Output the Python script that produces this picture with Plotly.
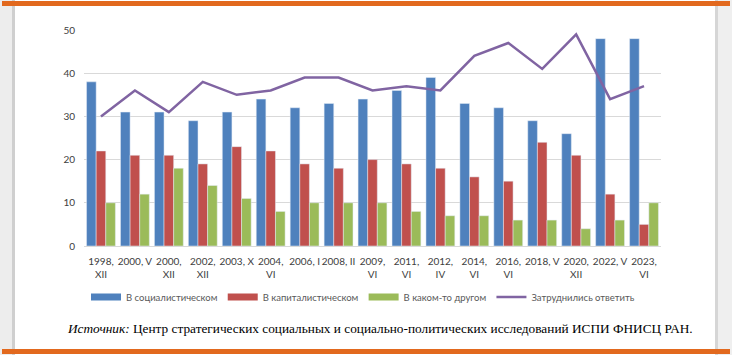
import plotly.graph_objects as go

categories = ["1998,<br>XII", "2000, V", "2000,<br>XII", "2002,<br>XII", "2003, X", "2004,<br>VI",
              "2006, I", "2008, II", "2009,<br>VI", "2011,<br>VI", "2012,<br>IV", "2014,<br>VI",
              "2016,<br>VI", "2018, V", "2020,<br>XII", "2022, V", "2023,<br>VI"]
socialist = [38, 31, 31, 29, 31, 34, 32, 33, 34, 36, 39, 33, 32, 29, 26, 48, 48]
capitalist = [22, 21, 21, 19, 23, 22, 19, 18, 20, 19, 18, 16, 15, 24, 21, 12, 5]
other = [10, 12, 18, 14, 11, 8, 10, 10, 10, 8, 7, 7, 6, 6, 4, 6, 10]
undecided = [30, 36, 31, 38, 35, 36, 39, 39, 36, 37, 36, 44, 47, 41, 49, 34, 37]
series_names = ["В социалистическом", "В капиталистическом", "В каком-то другом", "Затруднились ответить"]
yticks = [0, 10, 20, 30, 40, 50]

colors = ["#4F81BD", "#C0504D", "#9BBB59", "#8064A2"]

W, H = 732, 355
L, R, T, B = 84, 661, 30, 246


def px_x(x):
    return (x - L) / (R - L)


def px_y(y):
    return (B - y) / (B - T)


fig = go.Figure()
for vals, name, col in zip([socialist, capitalist, other], series_names[:3], colors[:3]):
    fig.add_bar(x=categories, y=vals, name=name, marker_color=col, showlegend=False, legendgroup=name)
    # legend-only entry drawn as a wide swatch like the original
    fig.add_scatter(x=[categories[0]], y=[None], name=name, mode="lines", legendgroup=name,
                    line=dict(color=col, width=7), hoverinfo="skip")
fig.add_scatter(x=categories, y=undecided, name=series_names[3], mode="lines",
                line=dict(color=colors[3], width=2.5))

shapes = [
    dict(type="rect", xref="paper", yref="paper", x0=px_x(0), x1=px_x(14), y0=px_y(H), y1=px_y(0),
         fillcolor="#EDEDED", line_width=0, layer="below"),
    dict(type="rect", xref="paper", yref="paper", x0=px_x(12), x1=px_x(15), y0=px_y(H), y1=px_y(0),
         fillcolor="#CFCFCF", line_width=0, layer="below"),
    dict(type="rect", xref="paper", yref="paper", x0=px_x(716), x1=px_x(W), y0=px_y(H), y1=px_y(0),
         fillcolor="#EFEFEF", line_width=0, layer="below"),
    dict(type="rect", xref="paper", yref="paper", x0=px_x(715), x1=px_x(718), y0=px_y(H), y1=px_y(0),
         fillcolor="#D6D6D6", line_width=0, layer="below"),
    dict(type="rect", xref="paper", yref="paper", x0=px_x(2), x1=px_x(730), y0=px_y(6), y1=px_y(1),
         fillcolor="#E2691E", line_width=0, layer="above"),
    dict(type="rect", xref="paper", yref="paper", x0=px_x(2), x1=px_x(730), y0=px_y(354), y1=px_y(349),
         fillcolor="#E2691E", line_width=0, layer="above"),
]

fig.update_layout(
    width=W, height=H,
    margin=dict(l=L, r=W - R, t=T, b=H - B, autoexpand=False),
    paper_bgcolor="white", plot_bgcolor="white",
    barmode="group", bargap=0.15, bargroupgap=0,
    font=dict(family="Lato, Open Sans, sans-serif", size=10, color="#404040"),
    showlegend=True,
    legend=dict(orientation="h", x=px_x(363), xanchor="center", y=px_y(297), yanchor="middle",
                font=dict(size=9.5, color="#595959"), itemwidth=30,
                bgcolor="rgba(0,0,0,0)", traceorder="normal"),
    shapes=shapes,
    annotations=[dict(xref="paper", yref="paper", x=px_x(380), y=px_y(328), xanchor="center",
                      yanchor="middle", showarrow=False,
                      text="<i>Источник:</i> Центр стратегических социальных и социально-политических исследований ИСПИ ФНИСЦ РАН.",
                      font=dict(family="'Liberation Serif', 'Times New Roman', serif", size=13.3,
                                color="#000000"))],
)
fig.update_xaxes(showgrid=False, showline=True, linecolor="#D9D9D9", linewidth=1, ticks="",
                 ticklabelstandoff=6, tickfont=dict(size=10, color="#404040"), tickangle=0)
fig.update_yaxes(range=[0, 50], tickvals=yticks, showgrid=True, gridcolor="#D9D9D9", gridwidth=1,
                 zeroline=False, showline=False, ticks="", ticklabelstandoff=8,
                 tickfont=dict(size=10, color="#404040"))

fig.write_html("out.html", config={"displayModeBar": False},
               post_script="document.body.style.margin='0';")
